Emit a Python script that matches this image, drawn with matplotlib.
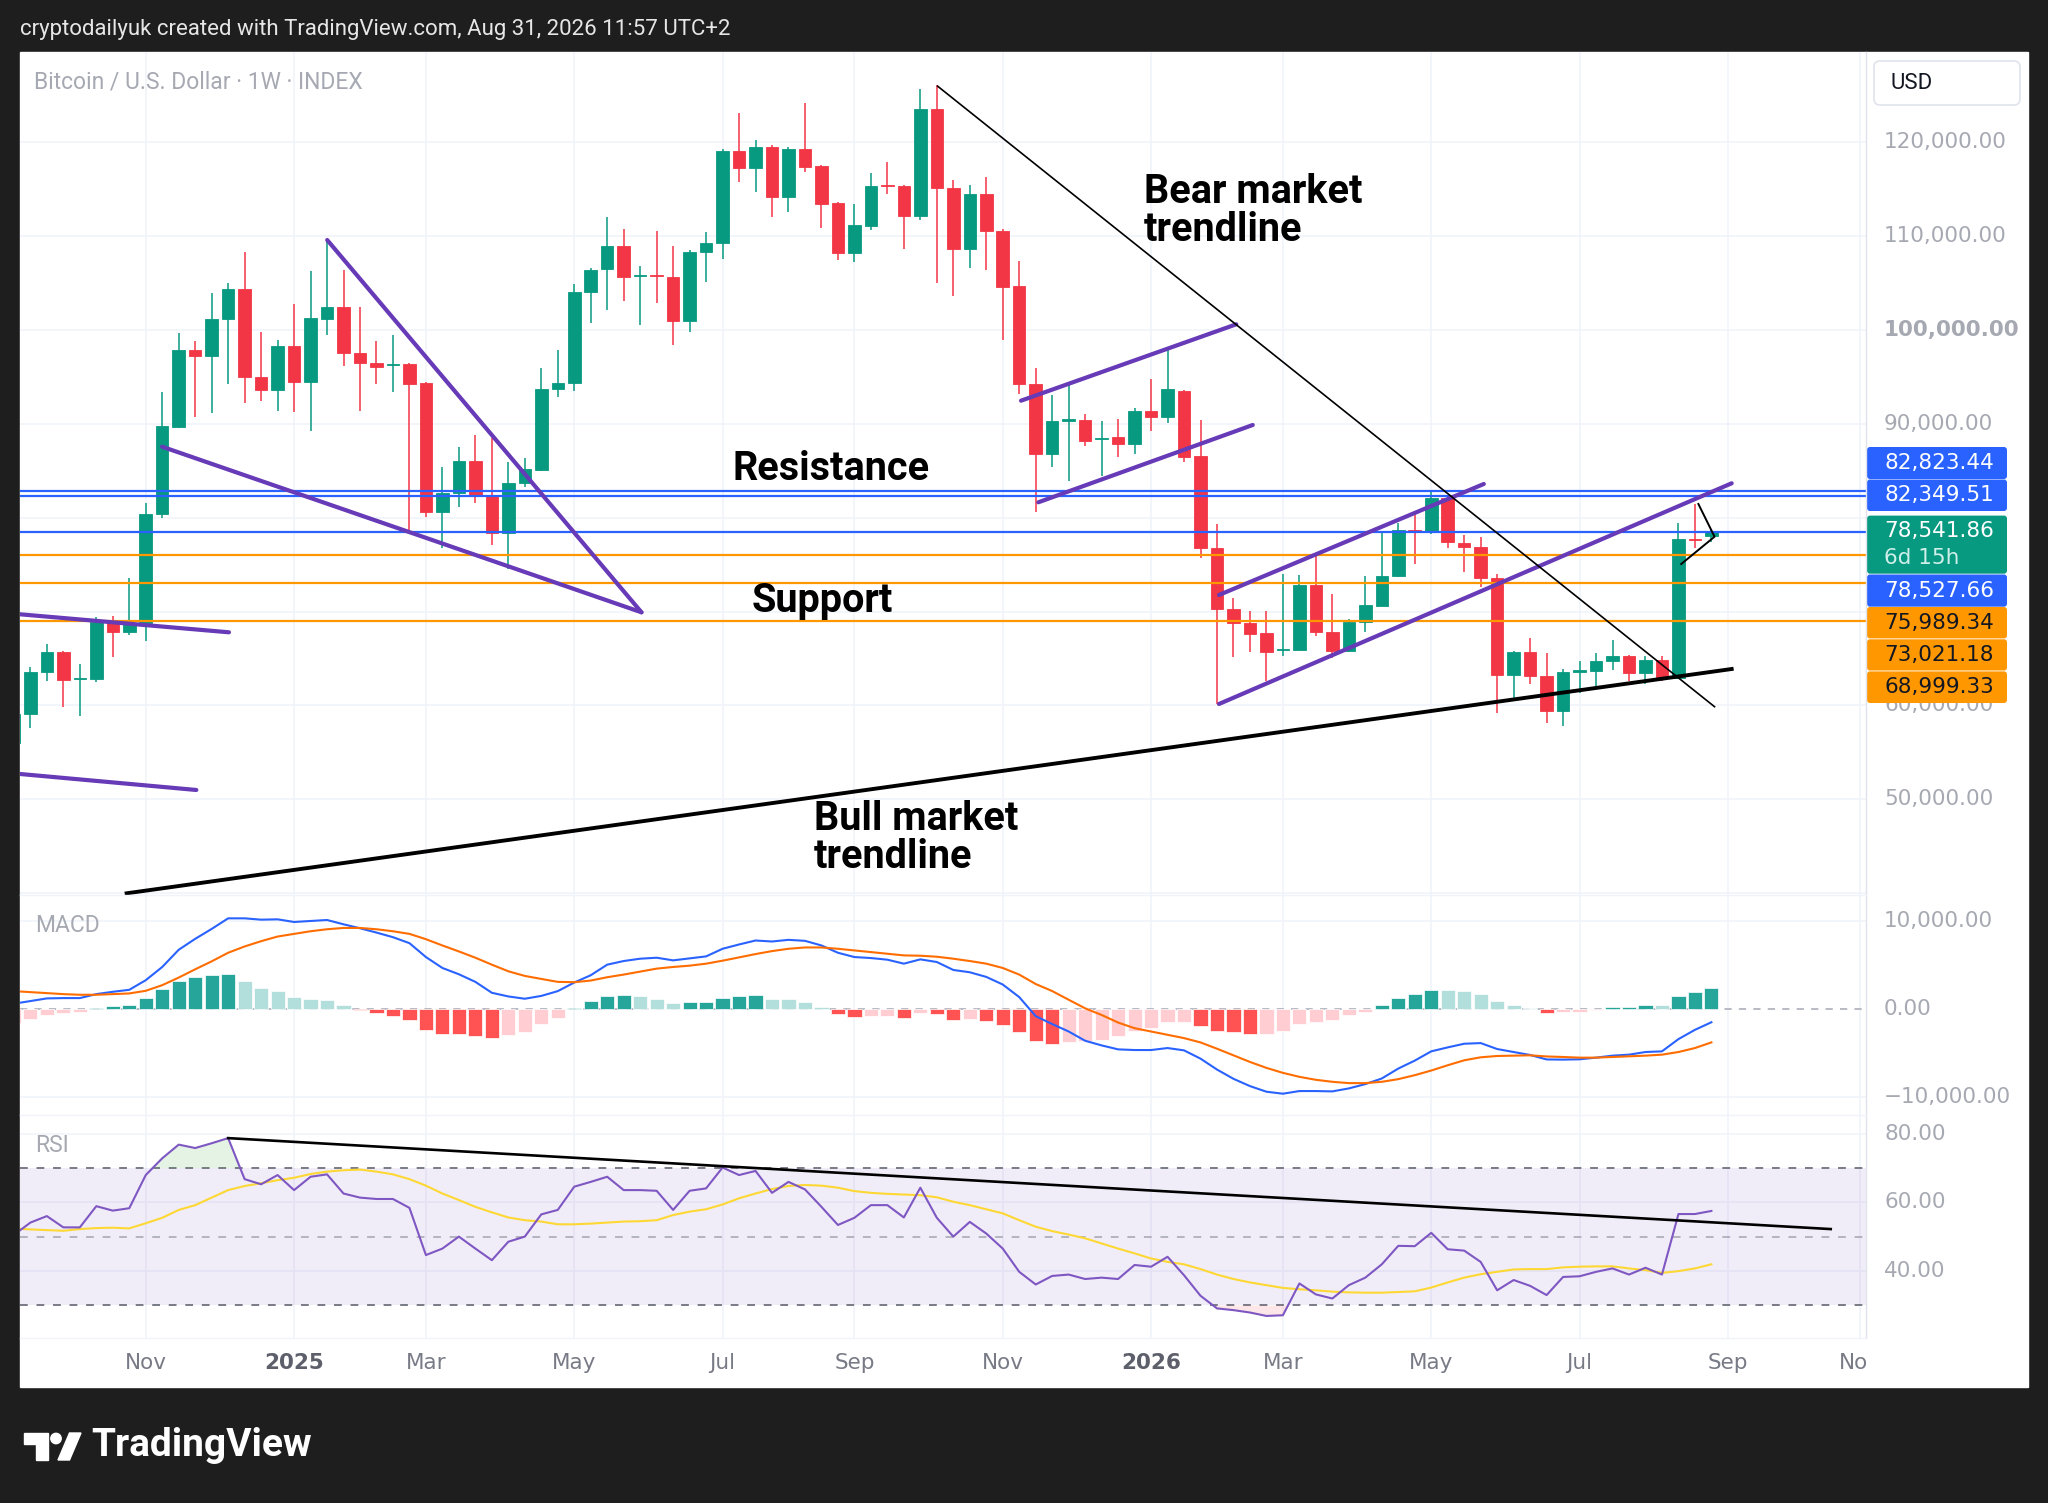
import numpy as np
import pandas as pd
import matplotlib
matplotlib.use("Agg")
import matplotlib.pyplot as plt
from matplotlib.patches import Rectangle, FancyBboxPatch, Polygon, Circle
from matplotlib.transforms import blended_transform_factory as btf

# ---------------- data ----------------
dates = pd.date_range("2024-09-09", periods=104, freq="W-MON")

opens = [56000, 59083, 63524, 65654, 62850, 62812, 68816, 67856, 68745, 80356,
         89697, 97867, 97263, 101135, 104367, 95025, 93605, 98293, 94421, 101135,
         102485, 97583, 96446, 96250, 96340, 94315, 80640, 82594, 86040, 82345,
         78331, 83659, 85080, 93712, 94315, 104012, 106462, 108949, 105700, 105800,
         105610, 100993, 108274, 109233, 119072, 117225, 119463, 114206, 119286, 117474,
         113496, 108168, 111116, 115400, 115343, 112181, 123512, 115094, 108594, 114490,
         110547, 104687, 94244, 86750, 90350, 90408, 88400, 88633, 87850, 91402,
         90763, 93534, 86573, 76806, 70234, 68742, 67677, 65900, 65900, 72827,
         67854, 65830, 68920, 70625, 73787, 78700, 78617, 82063, 77338, 76913,
         73609, 63237, 65723, 63166, 59401, 63600, 63700, 64728, 65297, 63486,
         64835, 62882, 77750, 78100]
highs = [59500, 64056, 66543, 65800, 64410, 69455, 69526, 73540, 81532, 93356,
         99643, 98826, 103905, 104971, 108274, 99821, 98933, 102769, 106320, 109589,
         106391, 102485, 98826, 99465, 96446, 94420, 85435, 87496, 88810, 88455,
         85968, 86394, 95914, 97867, 104864, 106568, 112004, 110761, 106817, 110548,
         108949, 108523, 110476, 119286, 123086, 120245, 119712, 119534, 124223, 117581,
         113673, 113389, 116693, 117936, 115500, 125644, 126105, 115982, 115449, 116338,
         110725, 107386, 95914, 93072, 94137, 91047, 90337, 90479, 91651, 94741,
         97867, 93605, 90410, 79292, 71406, 70092, 70092, 73999, 73893, 76024,
         71868, 69169, 73787, 78404, 79469, 80464, 82773, 82200, 78155, 77906,
         73999, 65800, 67215, 65545, 63841, 64728, 65616, 66966, 65368, 65300,
         65297, 79469, 81459, 78759]
lows = [54900, 57555, 62635, 59864, 58870, 62528, 65121, 67501, 66862, 80000,
        89520, 90763, 91189, 94208, 92184, 92468, 91367, 91296, 89271, 99465,
        96162, 91403, 94208, 93427, 78512, 80107, 76736, 81173, 81600, 77092,
        74499, 83304, 85008, 92894, 93534, 100778, 102130, 103125, 100495, 102840,
        98400, 99821, 105148, 107564, 115805, 114739, 112075, 112608, 116799, 110832,
        107458, 107280, 110654, 114455, 108629, 111720, 105042, 103621, 106570, 106392,
        98972, 93143, 80640, 85365, 83944, 87637, 84441, 86429, 86750, 89271,
        90052, 85968, 75669, 60146, 65190, 65652, 62633, 65261, 65900, 67393,
        65013, 65723, 67783, 70550, 73700, 75065, 78262, 76734, 74177, 72579,
        59152, 60821, 62243, 58087, 57804, 61354, 62064, 63770, 62598, 62278,
        62598, 62775, 76734, 77445]
closes = [59100, 63594, 65654, 62706, 62950, 68922, 67856, 68638, 80395, 89804,
          97867, 97263, 101135, 104367, 95025, 93605, 98293, 94421, 101241, 102485,
          97583, 96446, 96020, 96400, 94208, 80640, 82594, 86040, 82416, 78331,
          83659, 85151, 93712, 94315, 104083, 106391, 108949, 105681, 105850, 105700,
          100993, 108346, 109233, 119072, 117225, 119463, 114206, 119286, 117403, 113425,
          108168, 111187, 115343, 115300, 112181, 123512, 115094, 108594, 114490, 110547,
          104616, 94244, 86750, 90337, 90480, 88206, 88500, 87850, 91402, 90763,
          93676, 86501, 76806, 70234, 68742, 67606, 65652, 66000, 72827, 67783,
          65830, 68920, 70696, 73787, 78688, 78600, 82063, 77374, 76913, 73609,
          63237, 65723, 63166, 59401, 63593, 63750, 64728, 65297, 63486, 64835,
          62882, 77694, 77650, 78541.86]

macd = [564, 865, 1166, 1203, 1203, 1654, 1918, 2143, 3234, 4738,
        6693, 7934, 9062, 10265, 10265, 10114, 10152, 9851, 9964, 10077,
        9588, 9137, 8648, 8122, 7445, 5866, 4625, 3910, 3046, 1805,
        1391, 1128, 1450, 1993, 2970, 3798, 5001, 5414, 5678, 5790,
        5490, 5715, 5941, 6806, 7294, 7746, 7633, 7821, 7708, 7182,
        6354, 5866, 5753, 5565, 5114, 5602, 5302, 4399, 4136, 3610,
        2745, 1316, -850, -1750, -2594, -3647, -4174, -4625, -4700, -4700,
        -4474, -4738, -5678, -6918, -7971, -8798, -9438, -9663, -9362, -9362,
        -9400, -9062, -8573, -7934, -6806, -5903, -4850, -4399, -3986, -3910,
        -4587, -4926, -5264, -5770, -5790, -5753, -5565, -5339, -5226, -4926,
        -4850, -3459, -2406, -1542]
signal = [1993, 1880, 1767, 1654, 1579, 1579, 1654, 1730, 2030, 2670,
          3534, 4474, 5377, 6354, 7069, 7670, 8197, 8498, 8798, 9024,
          9174, 9174, 9024, 8798, 8498, 7896, 7182, 6505, 5790, 5001,
          4249, 3722, 3380, 3046, 3008, 3196, 3572, 3873, 4211, 4550,
          4738, 4888, 5114, 5452, 5828, 6204, 6542, 6806, 6956, 6956,
          6806, 6618, 6430, 6242, 6054, 6016, 5903, 5678, 5414, 5114,
          4625, 3873, 2800, 2000, 1015, 38, -714, -1579, -2218, -2594,
          -2970, -3346, -3835, -4550, -5302, -6054, -6730, -7294, -7746, -8084,
          -8310, -8460, -8460, -8310, -8009, -7558, -7031, -6430, -5866, -5527,
          -5377, -5339, -5300, -5430, -5490, -5565, -5565, -5490, -5414, -5339,
          -5226, -4926, -4474, -3835]
hist = [-1580, -1165, -714, -526, -414, 113, 300, 414, 1166, 2218,
        3196, 3610, 3835, 3948, 3196, 2294, 1993, 1278, 1128, 1015,
        414, -150, -526, -827, -1278, -2369, -2858, -2870, -3083, -3309,
        -2970, -2632, -1730, -1015, 75, 865, 1391, 1504, 1391, 1128,
        700, 714, 720, 1241, 1391, 1504, 1053, 1050, 752, 150,
        -602, -940, -827, -820, -1015, -526, -602, -1241, -1128, -1354,
        -1880, -2707, -3722, -3985, -3835, -3722, -3534, -3158, -2594, -2143,
        -1466, -1460, -1918, -2594, -2707, -2858, -2850, -2594, -1767, -1466,
        -1278, -714, -338, 414, 1166, 1617, 2106, 2100, 1993, 1654,
        865, 414, 75, -451, -414, -338, -113, 188, 200, 414,
        400, 1391, 1918, 2331]
rsi = [50.5, 54.1, 56.0, 52.7, 52.7, 58.9, 57.6, 58.3, 68.0, 72.9,
       76.9, 75.9, 77.3, 78.8, 66.8, 65.3, 68.0, 63.6, 67.5, 68.2,
       62.6, 61.4, 61.0, 61.0, 58.4, 44.6, 46.5, 50.0, 46.5, 43.1,
       48.5, 50.0, 56.5, 57.8, 64.6, 66.0, 67.5, 63.6, 63.6, 63.4,
       57.8, 63.4, 64.1, 70.2, 68.0, 69.2, 62.8, 66.0, 63.8, 58.7,
       53.4, 55.5, 59.2, 59.2, 55.6, 64.3, 55.5, 50.0, 54.3, 50.9,
       46.5, 39.7, 36.0, 38.5, 38.9, 37.6, 38.0, 37.6, 41.7, 41.2,
       44.1, 38.7, 32.7, 29.0, 28.5, 27.8, 26.8, 27.0, 36.3, 33.1,
       31.9, 35.8, 38.0, 41.9, 47.3, 47.2, 51.1, 46.3, 45.9, 42.6,
       34.3, 37.3, 35.6, 32.9, 38.2, 38.4, 39.7, 40.7, 38.9, 40.9,
       38.9, 56.6, 56.6, 57.5]
rsi_ma = [52.4, 52.1, 51.9, 51.7, 52.2, 52.5, 52.6, 52.4, 53.9, 55.5,
          57.8, 59.2, 61.4, 63.6, 64.8, 65.6, 66.5, 67.2, 68.3, 69.0,
          69.4, 69.6, 69.0, 68.2, 66.8, 64.9, 62.6, 60.7, 58.7, 57.1,
          55.6, 54.8, 54.4, 53.6, 53.6, 53.8, 54.1, 54.4, 54.5, 54.8,
          56.3, 57.3, 58.0, 59.4, 61.2, 62.6, 63.9, 64.8, 65.1, 64.9,
          64.3, 63.3, 62.8, 62.5, 62.3, 62.1, 61.5, 60.2, 59.2, 58.0,
          56.8, 54.8, 52.9, 51.6, 50.6, 49.5, 48.0, 46.5, 45.1, 43.6,
          42.6, 41.9, 40.5, 38.9, 37.6, 36.6, 35.8, 35.0, 34.6, 34.3,
          33.9, 33.7, 33.6, 33.6, 33.8, 34.0, 35.1, 36.6, 38.0, 39.0,
          39.7, 40.4, 40.5, 40.5, 41.0, 41.2, 41.3, 41.3, 40.7, 40.2,
          39.4, 39.9, 40.7, 41.9]

blue_levels = [82823.44, 82349.51, 78527.66]
orange_levels = [75989.34, 73021.18, 68999.33]
last_price = 78541.86
countdown = "6d 15h"

price_ticks = [120000, 110000, 100000, 90000, 60000, 50000]
macd_ticks = [10000, 0, -10000]
rsi_ticks = [80, 60, 40]

# drawn trendlines (bar index, value)
bear_line = [(56.05, 125977), (103.19, 59862)]
bull_line = [(6.84, 39980), (104.23, 63880)]
purple_lines = [
    [(19.01, 109590), (38.08, 69920)],
    [(8.99, 87566), (38.08, 69920)],
    [(0.37, 69709), (13.05, 67790)],
    [(0.37, 52694), (11.07, 50989)],
    [(61.11, 92468), (74.17, 100608)],
    [(62.16, 81642), (75.17, 89879)],
    [(73.12, 71766), (89.19, 83593)],
    [(73.12, 60152), (104.23, 83668)],
]
small_black = [(102.21, 81461), (103.19, 77977), (101.17, 75068)]
rsi_trend = [(13.0, 78.8), (110.24, 52.2)]

# ---------------- layout ----------------
W, H = 2048, 1503
fig = plt.figure(figsize=(W / 100, H / 100), dpi=100)
fig.patch.set_facecolor("#1E1E1E")

def rect(x0, y0, x1, y1):
    return [x0 / W, 1 - y1 / H, (x1 - x0) / W, (y1 - y0) / H]

bg = fig.add_axes([0, 0, 1, 1], zorder=0)
bg.set_xlim(0, W); bg.set_ylim(H, 0); bg.axis("off")
bg.add_patch(Rectangle((20, 52), 2008, 1335, color="white"))

XL, XR = 20, 1866
xlim = (0.37, 112.38)
ax = fig.add_axes(rect(XL, 52, XR, 895), zorder=2)
axm = fig.add_axes(rect(XL, 895, XR, 1115), zorder=2)
axr = fig.add_axes(rect(XL, 1115, XR, 1338), zorder=2)
axt = fig.add_axes(rect(XL, 1338, XR, 1387), zorder=2)
for a in (ax, axm, axr, axt):
    a.set_xlim(*xlim)
    a.patch.set_alpha(0)
    for s in a.spines.values():
        s.set_visible(False)
    a.set_xticks([]); a.set_yticks([])
ax.set_ylim(39800, 129620)
axm.set_ylim(-12083, 12917)
axr.set_ylim(20.35, 85.56)
axt.set_ylim(0, 1)

x = np.arange(len(closes))
GRID = "#F0F3FA"
LBL = "#A6A9B2"

# month ticks (every other month, first weekly bar of the month)
ext = pd.date_range(dates[0], periods=115, freq="W-MON")
tick_pos, tick_lab, tick_bold = [], [], []
for i in range(1, len(ext)):
    if ext[i].month != ext[i - 1].month and ext[i].month in (1, 3, 5, 7, 9, 11):
        tick_pos.append(i)
        if ext[i].month == 1:
            tick_lab.append(str(ext[i].year)); tick_bold.append(True)
        else:
            tick_lab.append(ext[i].strftime("%b")); tick_bold.append(False)

for a in (ax, axm, axr):
    for p in tick_pos:
        a.axvline(p, color=GRID, lw=1.2, zorder=0)
for v in range(40000, 130001, 10000):
    ax.axhline(v, color=GRID, lw=1.2, zorder=0)
for v in macd_ticks:
    if v != 0:
        axm.axhline(v, color=GRID, lw=1.2, zorder=0)
for v in rsi_ticks:
    axr.axhline(v, color=GRID, lw=1.2, zorder=0)

# ---- candles ----
UP, DN = "#089981", "#F23645"
cols = [UP if c >= o else DN for o, c in zip(opens, closes)]
ax.vlines(x, lows, highs, colors=cols, lw=1.1, zorder=2)
bottoms = np.minimum(opens, closes)
heights = np.maximum(np.abs(np.array(closes) - np.array(opens)), 120)
ax.bar(x, heights, bottom=bottoms, width=0.76, color=cols, edgecolor=cols, lw=0.6, zorder=3)

# ---- horizontal levels ----
for v in blue_levels:
    ax.axhline(v, color="#2962FF", lw=1.6, zorder=4)
for v in orange_levels:
    ax.axhline(v, color="#FF9800", lw=1.6, zorder=4)

# ---- trendlines ----
PUR = "#673AB7"
for ln in purple_lines:
    ax.plot([p[0] for p in ln], [p[1] for p in ln], color=PUR, lw=3.0,
            solid_capstyle="round", zorder=5)
ax.plot([p[0] for p in bear_line], [p[1] for p in bear_line], color="black", lw=1.2, zorder=5)
ax.plot([p[0] for p in bull_line], [p[1] for p in bull_line], color="black", lw=2.8, zorder=5)
ax.plot([p[0] for p in small_black], [p[1] for p in small_black], color="black", lw=1.4, zorder=5)

# ---- MACD ----
hcols = []
for i, h in enumerate(hist):
    rising = True if i == 0 else h >= hist[i - 1]
    if h >= 0:
        hcols.append("#26A69A" if rising else "#B2DFDB")
    else:
        hcols.append("#FFCDD2" if rising else "#FF5252")
axm.axhline(0, color="#B2B5BE", lw=1.3, dashes=(4, 4), zorder=1)
axm.bar(x, hist, width=0.86, color=hcols, edgecolor="white", lw=0.5, zorder=2)
axm.plot(x, macd, color="#2962FF", lw=1.5, zorder=3)
axm.plot(x, signal, color="#FF6D00", lw=1.5, zorder=3)

# ---- RSI ----
axr.axhspan(30, 70, color="#7E57C2", alpha=0.1, lw=0, zorder=0)
axr.axhline(70, color="#787B86", lw=1.4, dashes=(4, 4.5), zorder=1)
axr.axhline(30, color="#787B86", lw=1.4, dashes=(4, 4.5), zorder=1)
axr.axhline(50, color="#787B86", lw=1.4, dashes=(4, 4.5), alpha=0.5, zorder=1)
r = np.array(rsi)
axr.fill_between(x, 70, r, where=r > 70, interpolate=True, color="#4CAF50", alpha=0.15, lw=0)
axr.fill_between(x, 30, r, where=r < 30, interpolate=True, color="#F23645", alpha=0.12, lw=0)
axr.plot(x, rsi_ma, color="#FDD835", lw=1.5, zorder=3)
axr.plot(x, rsi, color="#7E57C2", lw=1.5, zorder=4)
axr.plot([p[0] for p in rsi_trend], [p[1] for p in rsi_trend], color="black", lw=1.9, zorder=5)

# ---- scale labels ----
LX = 1.0 + (1884 - XR) / (XR - XL)
AXF = ["DejaVu Sans"]
for v in price_ticks:
    ax.text(LX, v, f"{v:,.2f}", transform=btf(ax.transAxes, ax.transData), ha="left",
            va="center", fontsize=15.5, color=LBL, family=AXF, clip_on=False,
            fontweight="bold" if v == 100000 else "normal")
for v in macd_ticks:
    s = f"{abs(v):,.2f}"
    axm.text(LX, v, ("\u2212" + s) if v < 0 else s, transform=btf(axm.transAxes, axm.transData),
             ha="left", va="center", fontsize=15.5, color=LBL, family=AXF, clip_on=False)
for v in rsi_ticks:
    axr.text(LX, v, f"{v:.2f}", transform=btf(axr.transAxes, axr.transData),
             ha="left", va="center", fontsize=15.5, color=LBL, family=AXF, clip_on=False)
for p, lab, b in zip(tick_pos, tick_lab, tick_bold):
    axt.text(p, 0.49, lab, ha="center", va="center", fontsize=15.5, family=AXF,
             color="#5D606B" if b else "#787B86", fontweight="bold" if b else "normal", clip_on=True)

# ---------------- overlay (pixel coords) ----------------
ov = fig.add_axes([0, 0, 1, 1], zorder=10)
ov.set_xlim(0, W); ov.set_ylim(H, 0); ov.axis("off"); ov.patch.set_alpha(0)
UI = ["Roboto", "DejaVu Sans"]

ov.plot([XR, XR], [52, 1338], color="#E0E3EB", lw=1.0)
ov.plot([XL, XR], [1338, 1338], color="#F0F3FA", lw=1.0)
ov.plot([XL, XR], [895, 895], color="#F0F3FA", lw=1.0)
ov.plot([XL, XR], [1115, 1115], color="#F0F3FA", lw=1.0)

ov.text(20, 29, "cryptodailyuk created with TradingView.com, Aug 31, 2026 11:57 UTC+2",
        color="#E6E6E6", fontsize=16, family=UI, va="center", ha="left")
ov.text(34, 82, "Bitcoin / U.S. Dollar \u00b7 1W \u00b7 INDEX", color="#A6A9B2",
        fontsize=16.5, family=UI, va="center", ha="left")
ov.text(35, 926, "MACD", color="#A6A9B2", fontsize=16.5, family=UI, va="center", ha="left")
ov.text(35, 1146, "RSI", color="#A6A9B2", fontsize=16.5, family=UI, va="center", ha="left")

ov.add_patch(FancyBboxPatch((1874, 61), 146, 44, boxstyle="round,pad=0,rounding_size=6",
                            facecolor="white", edgecolor="#E0E3EB", lw=1.2))
ov.text(1891, 83.5, "USD", color="#131722", fontsize=16, family=UI, va="center", ha="left")

# price tags
tag_boxes = [(447, 479, "#2962FF", "white"), (479.5, 511, "#2962FF", "white"),
             (515.6, 573.7, "#089981", "white"), (574.5, 606.7, "#2962FF", "white"),
             (607, 638.4, "#FF9800", "#131722"), (639.3, 670.5, "#FF9800", "#131722"),
             (671.4, 703, "#FF9800", "#131722")]
tag_vals = [blue_levels[0], blue_levels[1], last_price, blue_levels[2]] + orange_levels
for (y0, y1, fc, tc), v in zip(tag_boxes, tag_vals):
    ov.add_patch(FancyBboxPatch((1867, y0), 140, y1 - y0, boxstyle="round,pad=0,rounding_size=3",
                                facecolor=fc, edgecolor="none"))
    if v == last_price:
        ov.text(1884, y0 + 15.5, f"{v:,.2f}", color=tc, fontsize=15.5, family=AXF, va="center")
        ov.text(1884, y0 + 42, countdown, color="#CFEFE9", fontsize=15.5, family=AXF, va="center")
    else:
        ov.text(1884, (y0 + y1) / 2, f"{v:,.2f}", color=tc, fontsize=15.5, family=AXF, va="center")

# annotation labels
BF = dict(color="black", fontsize=28.5, family=UI, fontweight="bold", va="center")
ov.text(831, 469, "Resistance", ha="center", **BF)
ov.text(822, 601, "Support", ha="center", **BF)
ov.text(1144, 192, "Bear market", ha="left", **BF)
ov.text(1144, 230, "trendline", ha="left", **BF)
ov.text(814, 819, "Bull market", ha="left", **BF)
ov.text(814, 857, "trendline", ha="left", **BF)

# TradingView logo
ov.add_patch(Polygon([(23.5, 1433), (48, 1433), (48, 1460), (36, 1460), (36, 1444), (23.5, 1444)],
                     closed=True, color="white"))
ov.add_patch(Circle((56, 1438.5), 5.2, color="white"))
ov.add_patch(Polygon([(58, 1460), (69.5, 1433), (81, 1433), (69.5, 1460)], closed=True, color="white"))
ov.text(91, 1446, "TradingView", color="white", fontsize=28, family=UI, fontweight="bold",
        va="center", ha="left")

fig.savefig("out.png", dpi=100, facecolor=fig.get_facecolor())
